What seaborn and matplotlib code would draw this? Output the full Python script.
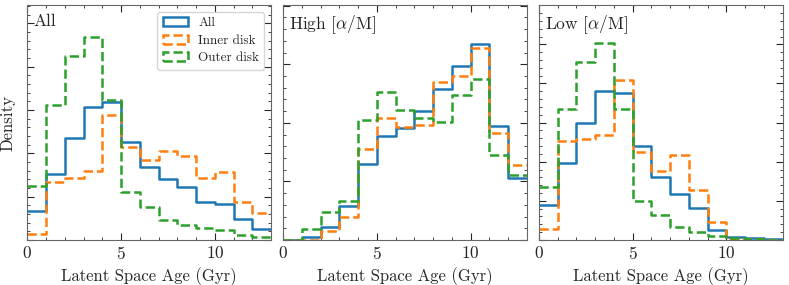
import numpy as np
import matplotlib
matplotlib.use('Agg')
import matplotlib.pyplot as plt
from matplotlib.patches import Patch
from matplotlib.ticker import MultipleLocator
import seaborn as sns

# bin edges (Gyr) and per-bin density
bin_edges = list(range(0, 14))

all_all = [0.0338, 0.0765, 0.1181, 0.1531, 0.1596, 0.1127, 0.0846, 0.0704, 0.0608, 0.0438, 0.0415, 0.0238, 0.0127]
all_inner = [0.0069, 0.0669, 0.0712, 0.0800, 0.1446, 0.1077, 0.0923, 0.1031, 0.0973, 0.0712, 0.0785, 0.0438, 0.0308]
all_outer = [0.0627, 0.1558, 0.2119, 0.2342, 0.1619, 0.0558, 0.0385, 0.0231, 0.0169, 0.0138, 0.0115, 0.0054, 0.0038]

high_all = [0.0, 0.0028, 0.0108, 0.0291, 0.0650, 0.0889, 0.0954, 0.1105, 0.1288, 0.1487, 0.1672, 0.0974, 0.0527]
high_inner = [0.0, 0.0, 0.0080, 0.0194, 0.0775, 0.1040, 0.0960, 0.0983, 0.1345, 0.1396, 0.1638, 0.0917, 0.0644]
high_outer = [0.0, 0.0097, 0.0236, 0.0333, 0.1020, 0.1259, 0.1111, 0.1043, 0.1003, 0.1239, 0.1376, 0.0721, 0.0553]

low_all = [0.0444, 0.0990, 0.1497, 0.1903, 0.1877, 0.1203, 0.0811, 0.0593, 0.0414, 0.0128, 0.0038, 0.0021, 0.0013]
low_inner = [0.0141, 0.1271, 0.1288, 0.1344, 0.2039, 0.1122, 0.0887, 0.1084, 0.0644, 0.0226, 0.0013, 0.0009, 0.0004]
low_outer = [0.0683, 0.1677, 0.2278, 0.2513, 0.1668, 0.0495, 0.0324, 0.0162, 0.0102, 0.0047, 0.0021, 0.0009, 0.0004]

panel_titles = ['All', r'High [$\alpha$/M]', r'Low [$\alpha$/M]']
panel_ylims = [0.2708, 0.2003, 0.2999]
series_labels = ['All', 'Inner disk', 'Outer disk']
panels = [
    [all_all, all_inner, all_outer],
    [high_all, high_inner, high_outer],
    [low_all, low_inner, low_outer],
]

colors = ['#1f77b4', '#ff7f0e', '#2ca02c']
styles = ['-', '--', '--']

sns.set_style('ticks')
plt.rcParams['font.family'] = 'serif'
plt.rcParams['font.serif'] = ['cmr10']
plt.rcParams['mathtext.fontset'] = 'cm'
plt.rcParams['axes.formatter.use_mathtext'] = True
plt.rcParams['axes.unicode_minus'] = False

fig, axes = plt.subplots(1, 3, figsize=(7.89, 2.85), dpi=100)
fig.subplots_adjust(left=0.0346, right=0.9918, bottom=0.158, top=0.9814, wspace=0.049)

centers = [e + 0.5 for e in bin_edges[:-1]]

for ax, title, ylim, series in zip(axes, panel_titles, panel_ylims, panels):
    for vals, c, ls, lab in zip(series, colors, styles, series_labels):
        sns.histplot(x=centers, weights=vals, bins=bin_edges, element='step', fill=False,
                     stat='count', color=c, linestyle=ls, linewidth=1.8, ax=ax)
    ax.set_xlim(0, 13)
    ax.set_ylim(0, ylim)
    ax.xaxis.set_major_locator(MultipleLocator(5))
    ax.xaxis.set_minor_locator(MultipleLocator(1))
    ax.yaxis.set_major_locator(MultipleLocator(0.05))
    ax.yaxis.set_minor_locator(MultipleLocator(0.01))
    ax.tick_params(which='both', direction='in', top=True, right=True, labelsize=12.5)
    ax.tick_params(which='major', length=5, width=0.8)
    ax.tick_params(which='minor', length=2.5, width=0.6)
    ax.set_yticklabels([])
    ax.set_ylabel('')
    ax.set_xlabel('Latent Space Age (Gyr)', fontsize=12, labelpad=4)
    for s in ax.spines.values():
        s.set_color('0.4')
    ax.text(0.025, 0.965, title, transform=ax.transAxes, ha='left', va='top', fontsize=12.5)

axes[0].set_ylabel('Density', fontsize=12, labelpad=5)

handles = [Patch(facecolor='none', edgecolor=c, linestyle=ls, linewidth=1.8) for c, ls in zip(colors, styles)]
axes[0].legend(handles, series_labels, loc='upper right', fontsize=9.5, handlelength=1.9,
               borderaxespad=0.5, labelspacing=0.4, handletextpad=0.8)

fig.savefig('out.png', dpi=100)
